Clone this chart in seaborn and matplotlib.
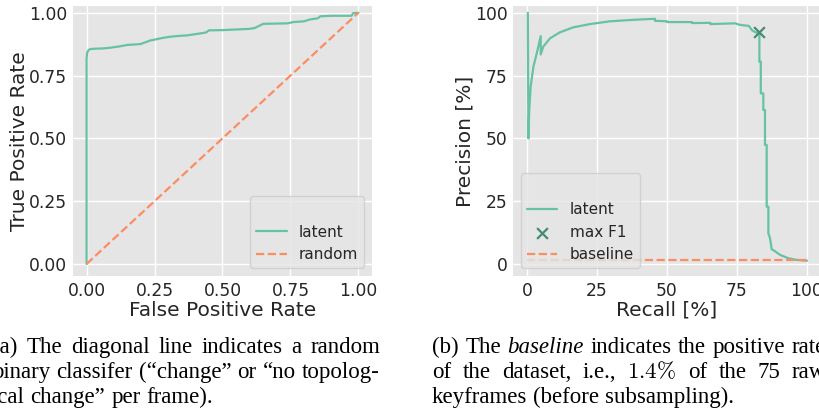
import matplotlib
matplotlib.use("Agg")
import matplotlib.pyplot as plt
import seaborn as sns
import pandas as pd

# ---------------- data ----------------
roc_fpr = [0.000, 0.000, 0.002, 0.006, 0.012, 0.030, 0.060, 0.088, 0.100, 0.120, 0.150, 0.180,
           0.200, 0.210, 0.235, 0.250, 0.280, 0.310, 0.340, 0.370, 0.400, 0.420, 0.440, 0.450,
           0.500, 0.540, 0.600, 0.620, 0.635, 0.650, 0.700, 0.740, 0.760, 0.800, 0.820, 0.850,
           0.860, 0.900, 0.975, 0.980, 1.000]
roc_tpr = [0.000, 0.820, 0.840, 0.850, 0.855, 0.857, 0.858, 0.861, 0.863, 0.866, 0.872, 0.874,
           0.876, 0.880, 0.890, 0.893, 0.900, 0.905, 0.908, 0.910, 0.915, 0.918, 0.922, 0.930,
           0.931, 0.933, 0.936, 0.940, 0.948, 0.956, 0.957, 0.958, 0.963, 0.966, 0.973, 0.978,
           0.986, 0.988, 0.988, 0.998, 1.000]
random_fpr = [0.0, 1.0]
random_tpr = [0.0, 1.0]

pr_recall = [0.3, 0.5, 0.8, 1.3, 2.3, 3.5, 4.9, 4.9, 5.8, 8.2, 11.7, 16.5, 22.5, 29.6, 38.0,
             45.7, 45.7, 50.1, 50.1, 59.0, 59.0, 65.5, 65.5, 74.4, 75.6, 77.4, 79.2, 80.4,
             81.5, 82.7, 83.0, 83.0, 83.5, 83.5, 84.4, 84.4, 85.0, 85.0, 85.6, 85.6, 86.2,
             86.2, 86.8, 87.4, 88.0, 90.4, 93.3, 96.3, 100.0]
pr_precision = [100.0, 50.0, 61.3, 70.6, 78.6, 83.9, 90.7, 83.4, 86.5, 89.8, 92.2, 94.2, 95.5,
                96.6, 97.2, 97.6, 96.8, 96.6, 96.3, 96.3, 95.9, 96.0, 95.5, 95.8, 95.3, 95.0,
                94.8, 93.0, 92.3, 91.8, 92.0, 80.5, 80.5, 67.9, 67.9, 61.3, 61.3, 47.4, 47.4,
                22.8, 22.8, 12.2, 10.2, 5.8, 5.5, 3.6, 2.3, 1.6, 1.3]
maxf1_recall = [82.7]
maxf1_precision = [92.2]
baseline_rate = 1.4
baseline_recall = [0.0, 100.0]

roc_ticks = [0.0, 0.25, 0.5, 0.75, 1.0]
roc_ticklabels = ["0.00", "0.25", "0.50", "0.75", "1.00"]
pr_ticks = [0, 25, 50, 75, 100]
pr_ticklabels = ["0", "25", "50", "75", "100"]

caption_a = [
    [("(a)", {}), ("The", {}), ("diagonal", {}), ("line", {}), ("indicates", {}), ("a", {}), ("random", {})],
    [("binary", {}), ("classifer", {}), ("(“change”", {}), ("or", {}), ("“no", {}), ("topolog-", {})],
    [("ical", {}), ("change”", {}), ("per", {}), ("frame).", {})],
]
caption_b = [
    [("(b)", {}), ("The", {}), ("baseline", {"style": "italic"}), ("indicates", {}), ("the", {}),
     ("positive", {}), ("rate", {})],
    [("of", {}), ("the", {}), ("dataset,", {}), ("i.e.,", {}), (r"$1.4\%$", {"math_fontfamily": "cm"}),
     ("of", {}), ("the", {}), ("75", {}), ("raw", {})],
    [("keyframes", {}), ("(before", {}), ("subsampling).", {})],
]

# ---------------- style ----------------
GREEN = "#66c2a5"
ORANGE = "#fc8d62"
DARKGREEN = "#458a73"

sns.set_theme(style="darkgrid", rc={
    "axes.facecolor": "#E5E5E5",
    "grid.color": "white",
    "grid.linewidth": 1.0,
    "xtick.labelsize": 12.3,
    "ytick.labelsize": 12.3,
    "axes.labelsize": 14.5,
    "legend.fontsize": 11,
    "text.color": "0.15",
    "axes.labelcolor": "0.15",
})
plt.rcParams["font.family"] = ["DejaVu Sans"]

W, H = 820, 415
fig = plt.figure(figsize=(W / 100, H / 100), dpi=100)
ax1 = fig.add_axes([73 / W, (H - 276) / H, 299 / W, 270 / H])
ax2 = fig.add_axes([513 / W, (H - 276) / H, 308 / W, 270 / H])

# ---------------- ROC ----------------
roc_df = pd.DataFrame({"fpr": roc_fpr, "tpr": roc_tpr})
sns.lineplot(data=roc_df, x="fpr", y="tpr", sort=False, estimator=None, color=GREEN,
             linewidth=1.6, label="latent", ax=ax1)
sns.lineplot(x=random_fpr, y=random_tpr, sort=False, estimator=None, color=ORANGE,
             linewidth=1.6, linestyle="--", label="random", ax=ax1)
ax1.set_xlim(-0.05, 1.05)
ax1.set_ylim(-0.048, 1.027)
ax1.set_xticks(roc_ticks, roc_ticklabels)
ax1.set_yticks(roc_ticks, roc_ticklabels)
ax1.set_xlabel("False Positive Rate", labelpad=1)
ax1.set_ylabel("True Positive Rate", labelpad=0)
ax1.legend(loc="lower right", title=" ", title_fontsize=11, framealpha=0.8,
           edgecolor="0.8", facecolor="#E5E5E5")

# ---------------- PR ----------------
pr_df = pd.DataFrame({"recall": pr_recall, "precision": pr_precision})
sns.lineplot(data=pr_df, x="recall", y="precision", sort=False, estimator=None, color=GREEN,
             linewidth=1.6, label="latent", ax=ax2)
sns.scatterplot(x=maxf1_recall, y=maxf1_precision, marker="x", s=60, color=DARKGREEN,
                linewidth=1.6, label="max F1", ax=ax2, zorder=5)
sns.lineplot(x=baseline_recall, y=[baseline_rate] * len(baseline_recall), color=ORANGE,
             linewidth=1.6, linestyle="--", label="baseline", ax=ax2)
ax2.set_xlim(-5, 105)
ax2.set_ylim(-4.8, 102.7)
ax2.set_xticks(pr_ticks, pr_ticklabels)
ax2.set_yticks(pr_ticks, pr_ticklabels)
ax2.set_xlabel("Recall [%]", labelpad=1)
ax2.set_ylabel("Precision [%]", labelpad=0)
ax2.legend(loc="lower left", title=" ", title_fontsize=11, framealpha=0.8,
           edgecolor="0.8", facecolor="#E5E5E5")

for ax in (ax1, ax2):
    ax.tick_params(axis="both", length=0, pad=4)
    for s in ax.spines.values():
        s.set_visible(False)

# ---------------- captions ----------------
CAP_SIZE = 16.5
fig.canvas.draw()
renderer = fig.canvas.get_renderer()


def place_line(words, x0, x1, y, justify):
    texts, widths = [], []
    for w, kw in words:
        t = fig.text(0, 1 - y / H, w, fontsize=CAP_SIZE, family="Liberation Serif",
                     va="baseline", ha="left", color="black", **kw)
        widths.append(t.get_window_extent(renderer=renderer).width)
        texts.append(t)
    nat_gap = 0.25 * CAP_SIZE * 100 / 72
    if justify and len(words) > 1:
        gap = max((x1 - x0 - sum(widths)) / (len(words) - 1), 0.6 * nat_gap)
    else:
        gap = nat_gap
    x = x0
    for t, wd in zip(texts, widths):
        t.set_x(x / W)
        x += wd + gap


line_y = [353, 378, 403]
for i, words in enumerate(caption_a):
    place_line(words, -8, 380, line_y[i], justify=(i < 2))
for i, words in enumerate(caption_b):
    place_line(words, 432, 826, line_y[i], justify=(i < 2))

fig.savefig("out.png", dpi=100)
